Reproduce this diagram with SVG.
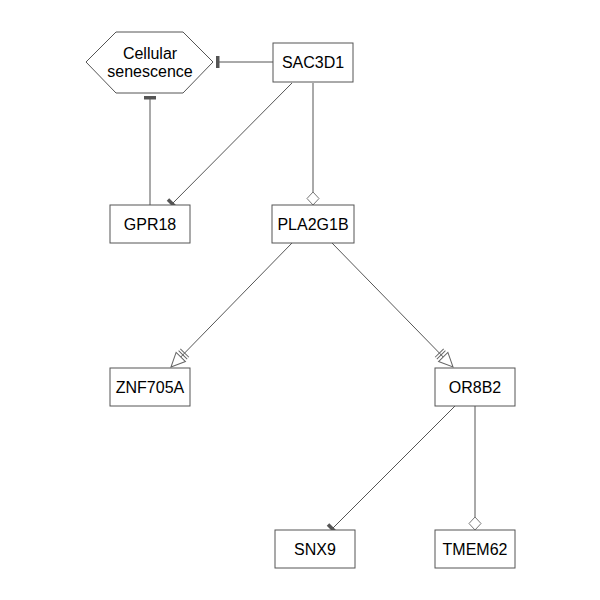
<svg xmlns="http://www.w3.org/2000/svg" width="600" height="600" viewBox="0 0 600 600">
<style>
.box{fill:#fff;stroke:#555;stroke-width:1}
.lbl{font-family:"Liberation Sans",Arial,sans-serif;font-size:16px;fill:#000;text-anchor:middle;dominant-baseline:central}
.edge{stroke:#555;stroke-width:1;fill:none}
</style>
<defs>
<marker id="inh" markerUnits="userSpaceOnUse" viewBox="-6 -8 8 16" refX="0" refY="0" markerWidth="8" markerHeight="16" orient="auto">
<rect x="-3.5" y="-6" width="3.5" height="12" fill="#555"/>
</marker>
<marker id="arr" markerUnits="userSpaceOnUse" viewBox="-24 -9 26 18" refX="0" refY="0" markerWidth="26" markerHeight="18" orient="auto">
<polygon points="0,0 -14,-6.5 -14,6.5" fill="#fff" stroke="#666" stroke-width="1"/>
<line x1="-17" y1="-6" x2="-17" y2="6" stroke="#666" stroke-width="1"/>
<line x1="-19.5" y1="-6" x2="-19.5" y2="6" stroke="#666" stroke-width="1"/>
</marker>
<marker id="dia" markerUnits="userSpaceOnUse" viewBox="-14 -7 16 14" refX="0" refY="0" markerWidth="16" markerHeight="14" orient="auto">
<polygon points="0,0 -6.5,-6 -13,0 -6.5,6" fill="#fff" stroke="#777" stroke-width="1"/>
</marker>
</defs>
<g id="edges">
<line class="edge" x1="273" y1="62" x2="216" y2="62" marker-end="url(#inh)"/>
<line class="edge" x1="150" y1="205" x2="150" y2="96" marker-end="url(#inh)"/>
<line class="edge" x1="292" y1="83" x2="171" y2="205" marker-end="url(#inh)"/>
<line class="edge" x1="313" y1="83" x2="313" y2="205" marker-end="url(#dia)"/>
<line class="edge" x1="292" y1="243" x2="171" y2="367" marker-end="url(#arr)"/>
<line class="edge" x1="332" y1="243" x2="453" y2="367" marker-end="url(#arr)"/>
<line class="edge" x1="455" y1="406" x2="331" y2="530" marker-end="url(#inh)"/>
<line class="edge" x1="475" y1="406" x2="475" y2="530" marker-end="url(#dia)"/>
</g>
<g id="cellular_senescence">
<polygon class="box" points="86,62 116,32 183,32 213,62 183,93 116,93"/>
<text class="lbl" x="150" y="53">Cellular</text>
<text class="lbl" x="150" y="71">senescence</text>
</g>
<g id="SAC3D1"><rect class="box" x="273" y="43" width="80" height="39"/><text class="lbl" x="313" y="62.5">SAC3D1</text></g>
<g id="GPR18"><rect class="box" x="110" y="205" width="80" height="38"/><text class="lbl" x="150" y="224">GPR18</text></g>
<g id="PLA2G1B"><rect class="box" x="272" y="205" width="82" height="38"/><text class="lbl" x="313" y="224">PLA2G1B</text></g>
<g id="ZNF705A"><rect class="box" x="110" y="368" width="80" height="38"/><text class="lbl" x="150" y="387">ZNF705A</text></g>
<g id="OR8B2"><rect class="box" x="435" y="368" width="80" height="38"/><text class="lbl" x="475" y="387">OR8B2</text></g>
<g id="SNX9"><rect class="box" x="275" y="530" width="80" height="38"/><text class="lbl" x="315" y="549">SNX9</text></g>
<g id="TMEM62"><rect class="box" x="435" y="530" width="80" height="38"/><text class="lbl" x="475" y="549">TMEM62</text></g>
</svg>
